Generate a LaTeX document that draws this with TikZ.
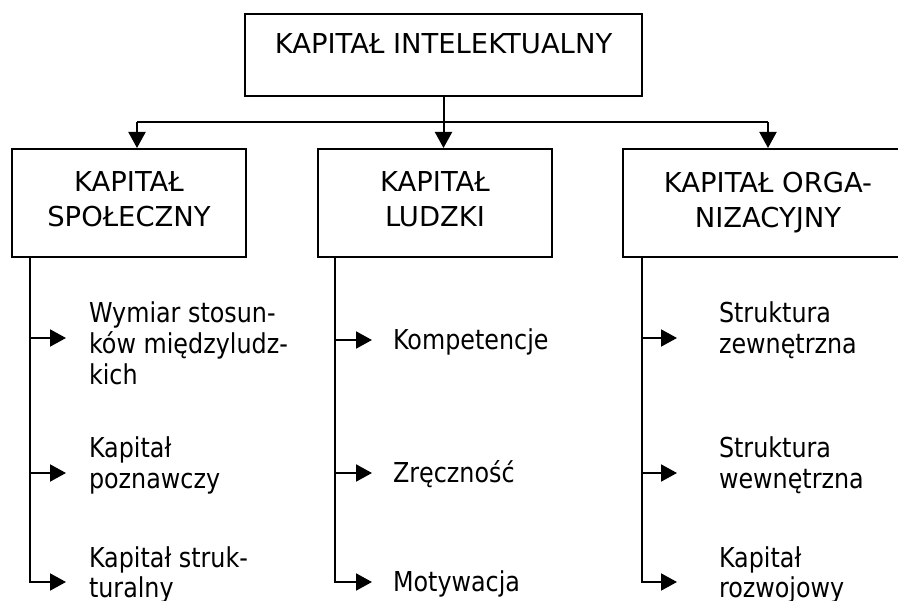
\documentclass[tikz,border=0pt]{standalone}
\usepackage{fontspec}
\setmainfont{DejaVu Sans}
\newfontfamily\itemfont[FakeStretch=0.87]{DejaVu Sans}
\usetikzlibrary{arrows.meta}

\begin{document}
\begin{tikzpicture}[x=1pt,y=-1pt,
  line width=2pt,
  box/.style={draw, line width=2pt, inner sep=0pt, align=center,
    font=\fontsize{27.4}{35}\selectfont},
  catbox/.style={box, minimum width=234pt, minimum height=108pt, text depth=7pt},
  item/.style={inner sep=0pt, align=left, anchor=base west,
    font=\itemfont\fontsize{27.4}{31}\selectfont},
  arr/.style={line width=2pt, -{Triangle[length=16pt,width=17pt]}},
  branch/.style={arr, shorten >=22pt},
]
\useasboundingbox (0,0) rectangle (898,601);

% top level
\node[box, minimum width=397pt, text height=40pt, text depth=42pt, anchor=base]
  (ic) at (443.5,54) {KAPITAŁ INTELEKTUALNY};

% three components
\node[catbox] (spo) at (129,203) {KAPITAŁ\\SPOŁECZNY};
\node[catbox] (lud) at (435,203) {KAPITAŁ\\LUDZKI};
\node[catbox, minimum width=290pt] (org) at (768,203) {KAPITAŁ ORGA-\\NIZACYJNY};

% distribution line
\coordinate (hl) at (137,122);
\coordinate (hr) at (768,122);
\draw[line width=2pt] (hl) -- (hr);
\draw[arr] (ic.south) -- (ic.south |- lud.north);
\draw[arr] (hl) -- (hl |- spo.north);
\draw[arr] (hr) -- (hr |- org.north);

% trunks and rows
\coordinate (ts) at (30,0);
\coordinate (tl) at (335,0);
\coordinate (to) at (642,0);
\coordinate (ra) at (0,338);
\coordinate (rb) at (0,340);
\coordinate (rc) at (0,473);
\coordinate (rd) at (0,582);

% items (anchored on the baseline of their last line)
\node[item] (s1) at (88,385) {Wymiar stosun-\\ków międzyludz-\\kich};
\node[item] (s2) at (88,489) {Kapitał\\poznawczy};
\node[item] (s3) at (88,598) {Kapitał struk-\\turalny};

\node[item] (l1) at (392,350) {Kompetencje};
\node[item] (l2) at (392,483) {Zręczność};
\node[item] (l3) at (392,592) {Motywacja};

\node[item] (o1) at (718,354) {Struktura\\zewnętrzna};
\node[item] (o2) at (718,489) {Struktura\\wewnętrzna};
\node[item] (o3) at (718,598) {Kapitał\\rozwojowy};

% branches
\draw[branch] (spo.south -| ts) |- (s3.west |- rd);
\draw[branch] (ts |- ra) -- (s1.west |- ra);
\draw[branch] (ts |- rc) -- (s2.west |- rc);

\draw[branch, shorten >=20pt] (lud.south -| tl) |- (l3.west |- rd);
\draw[branch, shorten >=20pt] (tl |- rb) -- (l1.west |- rb);
\draw[branch, shorten >=20pt] (tl |- rc) -- (l2.west |- rc);

\draw[branch, shorten >=41pt] (org.south -| to) |- (o3.west |- rd);
\draw[branch, shorten >=41pt] (to |- ra) -- (o1.west |- ra);
\draw[branch, shorten >=41pt] (to |- rc) -- (o2.west |- rc);
\end{tikzpicture}
\end{document}
